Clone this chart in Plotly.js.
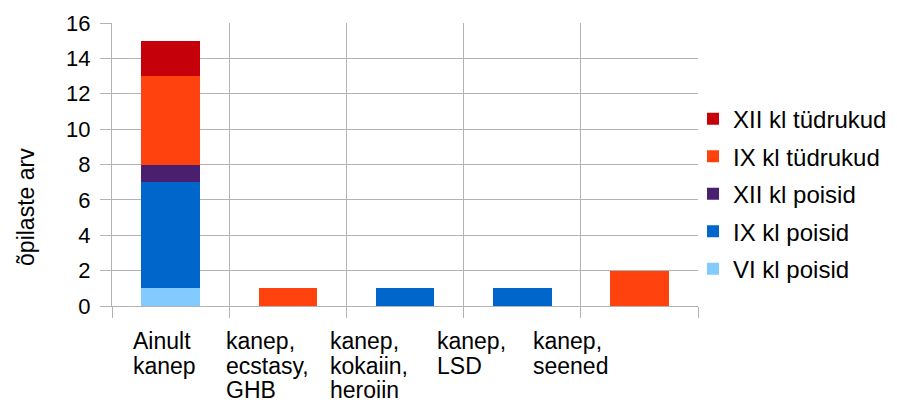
<!DOCTYPE html>
<html>
<head>
<meta charset="utf-8">
<script src="https://cdn.plot.ly/plotly-3.0.1.min.js"></script>
<style>html,body{margin:0;padding:0;background:#fff;}#chart{width:897px;height:403px;}</style>
</head>
<body>
<div id="chart"></div>
<script>
// Data
const categories = ["Ainult kanep", "kanep, ecstasy, GHB", "kanep, kokaiin, heroiin", "kanep, LSD", "kanep, seened"];
const categoryLines = [["Ainult", "kanep"], ["kanep,", "ecstasy,", "GHB"], ["kanep,", "kokaiin,", "heroiin"], ["kanep,", "LSD"], ["kanep,", "seened"]];
const seriesNames = ["VI kl poisid", "IX kl poisid", "XII kl poisid", "IX kl tüdrukud", "XII kl tüdrukud"];
const viPoisid = [1, 0, 0, 0, 0];
const ixPoisid = [6, 0, 1, 1, 0];
const xiiPoisid = [1, 0, 0, 0, 0];
const ixTudrukud = [5, 1, 0, 0, 2];
const xiiTudrukud = [2, 0, 0, 0, 0];
const yTitle = "õpilaste arv";

// Styles
const seriesValues = [viPoisid, ixPoisid, xiiPoisid, ixTudrukud, xiiTudrukud];
const seriesColors = ["#83CAFF", "#0066CC", "#4B1F6F", "#FF420E", "#C5000B"];
const labelShift = [-38.7, -63, -76.3, -86.7, -107];
const FONT = "Liberation Sans, Arial, sans-serif";
const FS = 23;
const LFS = 24;
const grid = "#b3b3b3";

const traces = seriesNames.map((name, i) => ({
  type: "bar",
  name: name,
  x: categories,
  y: seriesValues[i],
  marker: {color: seriesColors[i], line: {width: 0}},
  legendgroup: "g" + i,
  legendrank: (seriesNames.length - i) * 10,
  hoverinfo: "x+y+name"
}));

const annotations = [];
categoryLines.forEach((lines, ci) => {
  lines.forEach((ln, li) => {
    annotations.push({
      text: ln, x: categories[ci], xref: "x", y: 0, yref: "paper",
      xanchor: "left", yanchor: "top", xshift: labelShift[ci] - 1, yshift: -20 - li * 24.5,
      showarrow: false, align: "left", font: {family: FONT, size: FS, color: "#000"}
    });
  });
});
annotations.push({
  text: yTitle, textangle: -90, x: 0, xref: "paper", xshift: -86, y: 0.35, yref: "paper",
  xanchor: "center", yanchor: "middle", showarrow: false,
  font: {family: FONT, size: FS, color: "#000"}
});

const layout = {
  width: 897, height: 403,
  margin: {l: 112, r: 199, t: 23, b: 97, pad: 0, autoexpand: false},
  paper_bgcolor: "#fff", plot_bgcolor: "#fff",
  barmode: "stack", bargap: 0.5,
  font: {family: FONT, size: FS, color: "#000"},
  xaxis: {
    type: "category", tickson: "boundaries", ticks: "outside", ticklen: 11, tickcolor: grid,
    showgrid: true, gridcolor: grid, showline: true, linecolor: grid, mirror: false,
    showticklabels: false, fixedrange: true
  },
  yaxis: {
    range: [0, 16], dtick: 2, ticks: "outside", ticklen: 11, tickcolor: grid,
    showgrid: true, gridcolor: grid, showline: true, linecolor: grid, zeroline: false,
    ticklabelstandoff: 5, tickfont: {family: FONT, size: 22, color: "#000"}, fixedrange: true
  },
  showlegend: true,
  legend: {
    x: 0.9915, xanchor: "left", y: 0.395, yanchor: "middle",
    traceorder: "grouped", tracegroupgap: 3.3,
    font: {family: FONT, size: LFS, color: "#000"}, bgcolor: "rgba(0,0,0,0)"
  },
  annotations: annotations
};

Plotly.newPlot("chart", traces, layout, {displayModeBar: false, staticPlot: true});
</script>
</body>
</html>
